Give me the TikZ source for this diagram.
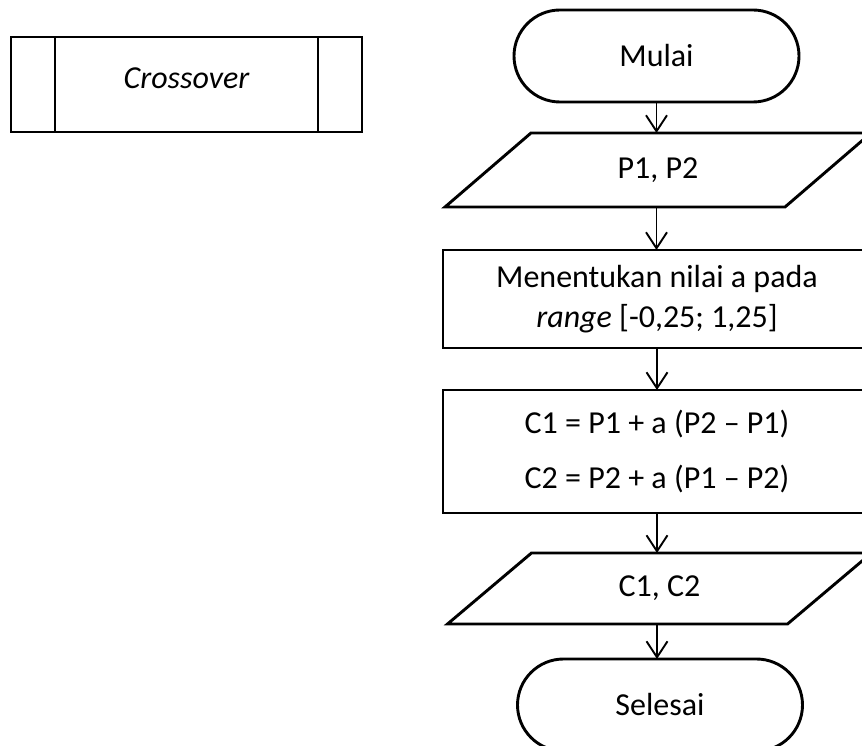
\documentclass[tikz,border=0pt]{standalone}
\usepackage{fontspec}
\setmainfont{Carlito}
\usetikzlibrary{arrows.meta,calc}
\begin{document}
\begin{tikzpicture}[x=1pt,y=-1pt,
  every node/.style={font=\fontsize{32}{40}\selectfont, inner sep=0pt, outer sep=0pt},
  shape line/.style={line width=2.9pt, line join=miter},
  terminal/.style={shape line, draw, rectangle, rounded corners=46pt, minimum width=285pt, minimum height=92pt},
  process/.style={shape line, draw, rectangle, minimum width=428pt, align=center},
  io/.style={rectangle, minimum width=340pt},
  flow/.style={line width=1.9pt, -{Straight Barb[length=16pt,width=21pt,line width=1.9pt]}}
]
\useasboundingbox (0,0) rectangle (862,746);
\clip (0,0) rectangle (862,746);

% predefined-process symbol
\node[shape line, draw, minimum width=351pt, minimum height=95pt] (cross) at (186.5,84.5) {};
\node (crosstext) at (186.5,78) {\itshape Crossover};
\draw[shape line] ([xshift=44pt]cross.north west) -- ([xshift=44pt]cross.south west);
\draw[shape line] ([xshift=-44pt]cross.north east) -- ([xshift=-44pt]cross.south east);

% flowchart
\node[terminal] (mulai) at (656.5,56) {Mulai};

\node[io, minimum height=74pt] (p12) at (658,170) {P1, P2};
\draw[shape line] ([xshift=43pt]p12.north west) -- ([xshift=43pt]p12.north east)
  -- ([xshift=-43pt]p12.south east) -- ([xshift=-43pt]p12.south west) -- cycle;

\node[process, minimum height=98pt] (nilai) at (657,299)
  {Menentukan nilai a pada\\\textit{range} [-0,25; 1,25]};

\node[process, minimum height=123pt, font=\fontsize{32}{55}\selectfont] (hitung) at (657,451.5)
  {C1 = P1 + a (P2 – P1)\\C2 = P2 + a (P1 – P2)};

\node[io, minimum height=71pt] (c12) at (659.5,588.5) {C1, C2};
\draw[shape line] ([xshift=42pt]c12.north west) -- ([xshift=42pt]c12.north east)
  -- ([xshift=-42pt]c12.south east) -- ([xshift=-42pt]c12.south west) -- cycle;

\node[terminal] (selesai) at (660,705) {Selesai};

% connectors
\draw[flow] (mulai.south) -- (mulai.south |- p12.north);
\draw[flow] (p12.south -| mulai.south) -- (mulai.south |- nilai.north);
\draw[flow] (nilai.south) -- (hitung.north);
\draw[flow] (hitung.south) -- (hitung.south |- c12.north);
\draw[flow] (c12.south -| hitung.south) -- (hitung.south |- selesai.north);
\end{tikzpicture}
\end{document}
